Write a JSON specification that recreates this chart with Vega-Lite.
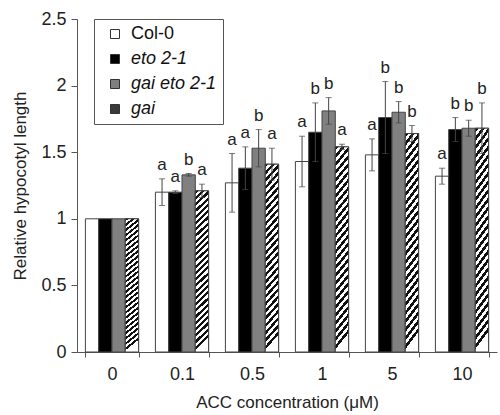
{
  "$schema": "https://vega.github.io/schema/vega-lite/v6.json",
  "width": 420,
  "height": 333,
  "autosize": "none",
  "padding": {"left": 77, "top": 19, "right": 3, "bottom": 63},
  "config": {
    "view": {"stroke": null},
    "font": "Liberation Sans",
    "axis": {"labelFont": "Liberation Sans", "titleFont": "Liberation Sans", "labelColor": "#222", "titleColor": "#222", "titleFontWeight": "normal", "domainColor": "#555", "tickColor": "#555", "grid": false}
  },
  "data": {
    "values": [
      {"conc": "0", "genotype": "Col-0", "value": 1.0, "lo": 1.0, "hi": 1.0, "sig": ""},
      {"conc": "0", "genotype": "eto 2-1", "value": 1.0, "lo": 1.0, "hi": 1.0, "sig": ""},
      {"conc": "0", "genotype": "gai eto 2-1", "value": 1.0, "lo": 1.0, "hi": 1.0, "sig": ""},
      {"conc": "0", "genotype": "gai", "value": 1.0, "lo": 1.0, "hi": 1.0, "sig": ""},
      {"conc": "0.1", "genotype": "Col-0", "value": 1.20, "lo": 1.10, "hi": 1.30, "sig": "a"},
      {"conc": "0.1", "genotype": "eto 2-1", "value": 1.20, "lo": 1.19, "hi": 1.21, "sig": "a"},
      {"conc": "0.1", "genotype": "gai eto 2-1", "value": 1.33, "lo": 1.32, "hi": 1.34, "sig": "b"},
      {"conc": "0.1", "genotype": "gai", "value": 1.21, "lo": 1.16, "hi": 1.26, "sig": "a"},
      {"conc": "0.5", "genotype": "Col-0", "value": 1.27, "lo": 1.05, "hi": 1.49, "sig": "a"},
      {"conc": "0.5", "genotype": "eto 2-1", "value": 1.38, "lo": 1.22, "hi": 1.54, "sig": "a"},
      {"conc": "0.5", "genotype": "gai eto 2-1", "value": 1.53, "lo": 1.39, "hi": 1.67, "sig": "b"},
      {"conc": "0.5", "genotype": "gai", "value": 1.41, "lo": 1.29, "hi": 1.53, "sig": "a"},
      {"conc": "1", "genotype": "Col-0", "value": 1.43, "lo": 1.24, "hi": 1.62, "sig": "a"},
      {"conc": "1", "genotype": "eto 2-1", "value": 1.65, "lo": 1.43, "hi": 1.87, "sig": "b"},
      {"conc": "1", "genotype": "gai eto 2-1", "value": 1.81, "lo": 1.71, "hi": 1.91, "sig": "b"},
      {"conc": "1", "genotype": "gai", "value": 1.54, "lo": 1.52, "hi": 1.56, "sig": "a"},
      {"conc": "5", "genotype": "Col-0", "value": 1.48, "lo": 1.36, "hi": 1.60, "sig": "a"},
      {"conc": "5", "genotype": "eto 2-1", "value": 1.76, "lo": 1.49, "hi": 2.03, "sig": "b"},
      {"conc": "5", "genotype": "gai eto 2-1", "value": 1.80, "lo": 1.72, "hi": 1.88, "sig": "b"},
      {"conc": "5", "genotype": "gai", "value": 1.64, "lo": 1.58, "hi": 1.70, "sig": "b"},
      {"conc": "10", "genotype": "Col-0", "value": 1.32, "lo": 1.26, "hi": 1.38, "sig": "a"},
      {"conc": "10", "genotype": "eto 2-1", "value": 1.67, "lo": 1.58, "hi": 1.76, "sig": "b"},
      {"conc": "10", "genotype": "gai eto 2-1", "value": 1.68, "lo": 1.62, "hi": 1.74, "sig": "b"},
      {"conc": "10", "genotype": "gai", "value": 1.68, "lo": 1.49, "hi": 1.87, "sig": "b"}
    ]
  },
  "encoding": {
    "x": {
      "field": "conc", "type": "nominal",
      "sort": ["0", "0.1", "0.5", "1", "5", "10"],
      "scale": {"paddingInner": 0.24, "paddingOuter": 0.12},
      "axis": {"title": "ACC concentration (μM)", "labelAngle": 0, "labelFontSize": 18, "titleFontSize": 17, "tickBand": "extent", "tickSize": 5, "labelPadding": 8, "titlePadding": 11}
    },
    "xOffset": {
      "field": "genotype", "type": "nominal",
      "sort": ["Col-0", "eto 2-1", "gai eto 2-1", "gai"],
      "scale": {"paddingInner": 0, "paddingOuter": 0}
    },
    "y": {
      "field": "value", "type": "quantitative",
      "scale": {"domain": [0, 2.5], "nice": false},
      "axis": {"values": [0, 0.5, 1, 1.5, 2, 2.5], "format": "~g", "title": "Relative hypocotyl length", "labelFontSize": 18, "titleFontSize": 17, "tickSize": 6, "labelPadding": 5, "titlePadding": 11}
    }
  },
  "layer": [
    {
      "mark": {"type": "bar", "stroke": "#444", "strokeWidth": 1},
      "encoding": {
        "fill": {
          "field": "genotype", "type": "nominal",
          "sort": ["Col-0", "eto 2-1", "gai eto 2-1", "gai"],
          "scale": {
            "domain": ["Col-0", "eto 2-1", "gai eto 2-1", "gai"],
            "range": ["#ffffff", "#000000", "#808080", "#3a3a3a"]
          },
          "legend": {
            "title": null, "orient": "none", "legendX": 17, "legendY": 0, "direction": "vertical",
            "strokeColor": "#555", "fillColor": "#ffffff", "padding": 6,
            "symbolType": "square", "symbolSize": 81, "symbolStrokeColor": "#333", "symbolStrokeWidth": 1,
            "labelFont": "Liberation Sans", "labelFontSize": 18, "labelColor": "#111", "labelOffset": 7, "symbolOffset": 6, "rowPadding": 7,
            "encode": {
              "labels": {"update": {"fontStyle": {"signal": "datum.label === 'Col-0' ? 'normal' : 'italic'"}}},
              "symbols": {"update": {
                "stroke": {"value": "#333"},
                "strokeWidth": {"value": 1}
              }}
            }
          }
        }
      }
    },
    {
      "transform": [{"filter": "datum.genotype === 'gai'"}],
      "mark": {"type": "bar", "stroke": "#444", "strokeWidth": 1, "fill": {
        "gradient": "linear", "x1": 0, "y1": 0, "x2": 0.08, "y2": 1,
        "stops": [
          {"offset": 0, "color": "#111"}, {"offset": 0.0192, "color": "#111"}, {"offset": 0.0192, "color": "#fff"}, {"offset": 0.0385, "color": "#fff"},
          {"offset": 0.0385, "color": "#111"}, {"offset": 0.0577, "color": "#111"}, {"offset": 0.0577, "color": "#fff"}, {"offset": 0.0769, "color": "#fff"},
          {"offset": 0.0769, "color": "#111"}, {"offset": 0.0962, "color": "#111"}, {"offset": 0.0962, "color": "#fff"}, {"offset": 0.1154, "color": "#fff"},
          {"offset": 0.1154, "color": "#111"}, {"offset": 0.1346, "color": "#111"}, {"offset": 0.1346, "color": "#fff"}, {"offset": 0.1538, "color": "#fff"},
          {"offset": 0.1538, "color": "#111"}, {"offset": 0.1731, "color": "#111"}, {"offset": 0.1731, "color": "#fff"}, {"offset": 0.1923, "color": "#fff"},
          {"offset": 0.1923, "color": "#111"}, {"offset": 0.2115, "color": "#111"}, {"offset": 0.2115, "color": "#fff"}, {"offset": 0.2308, "color": "#fff"},
          {"offset": 0.2308, "color": "#111"}, {"offset": 0.25, "color": "#111"}, {"offset": 0.25, "color": "#fff"}, {"offset": 0.2692, "color": "#fff"},
          {"offset": 0.2692, "color": "#111"}, {"offset": 0.2885, "color": "#111"}, {"offset": 0.2885, "color": "#fff"}, {"offset": 0.3077, "color": "#fff"},
          {"offset": 0.3077, "color": "#111"}, {"offset": 0.3269, "color": "#111"}, {"offset": 0.3269, "color": "#fff"}, {"offset": 0.3462, "color": "#fff"},
          {"offset": 0.3462, "color": "#111"}, {"offset": 0.3654, "color": "#111"}, {"offset": 0.3654, "color": "#fff"}, {"offset": 0.3846, "color": "#fff"},
          {"offset": 0.3846, "color": "#111"}, {"offset": 0.4038, "color": "#111"}, {"offset": 0.4038, "color": "#fff"}, {"offset": 0.4231, "color": "#fff"},
          {"offset": 0.4231, "color": "#111"}, {"offset": 0.4423, "color": "#111"}, {"offset": 0.4423, "color": "#fff"}, {"offset": 0.4615, "color": "#fff"},
          {"offset": 0.4615, "color": "#111"}, {"offset": 0.4808, "color": "#111"}, {"offset": 0.4808, "color": "#fff"}, {"offset": 0.5, "color": "#fff"},
          {"offset": 0.5, "color": "#111"}, {"offset": 0.5192, "color": "#111"}, {"offset": 0.5192, "color": "#fff"}, {"offset": 0.5385, "color": "#fff"},
          {"offset": 0.5385, "color": "#111"}, {"offset": 0.5577, "color": "#111"}, {"offset": 0.5577, "color": "#fff"}, {"offset": 0.5769, "color": "#fff"},
          {"offset": 0.5769, "color": "#111"}, {"offset": 0.5962, "color": "#111"}, {"offset": 0.5962, "color": "#fff"}, {"offset": 0.6154, "color": "#fff"},
          {"offset": 0.6154, "color": "#111"}, {"offset": 0.6346, "color": "#111"}, {"offset": 0.6346, "color": "#fff"}, {"offset": 0.6538, "color": "#fff"},
          {"offset": 0.6538, "color": "#111"}, {"offset": 0.6731, "color": "#111"}, {"offset": 0.6731, "color": "#fff"}, {"offset": 0.6923, "color": "#fff"},
          {"offset": 0.6923, "color": "#111"}, {"offset": 0.7115, "color": "#111"}, {"offset": 0.7115, "color": "#fff"}, {"offset": 0.7308, "color": "#fff"},
          {"offset": 0.7308, "color": "#111"}, {"offset": 0.75, "color": "#111"}, {"offset": 0.75, "color": "#fff"}, {"offset": 0.7692, "color": "#fff"},
          {"offset": 0.7692, "color": "#111"}, {"offset": 0.7885, "color": "#111"}, {"offset": 0.7885, "color": "#fff"}, {"offset": 0.8077, "color": "#fff"},
          {"offset": 0.8077, "color": "#111"}, {"offset": 0.8269, "color": "#111"}, {"offset": 0.8269, "color": "#fff"}, {"offset": 0.8462, "color": "#fff"},
          {"offset": 0.8462, "color": "#111"}, {"offset": 0.8654, "color": "#111"}, {"offset": 0.8654, "color": "#fff"}, {"offset": 0.8846, "color": "#fff"},
          {"offset": 0.8846, "color": "#111"}, {"offset": 0.9038, "color": "#111"}, {"offset": 0.9038, "color": "#fff"}, {"offset": 0.9231, "color": "#fff"},
          {"offset": 0.9231, "color": "#111"}, {"offset": 0.9423, "color": "#111"}, {"offset": 0.9423, "color": "#fff"}, {"offset": 0.9615, "color": "#fff"},
          {"offset": 0.9615, "color": "#111"}, {"offset": 0.9808, "color": "#111"}, {"offset": 0.9808, "color": "#fff"}, {"offset": 1, "color": "#fff"}
        ]
      }},
      "encoding": {}
    },
    {
      "transform": [{"filter": "datum.hi > datum.lo"}],
      "mark": {"type": "rule", "color": "#444", "strokeWidth": 1},
      "encoding": {
        "y": {"field": "lo", "type": "quantitative"},
        "y2": {"field": "hi"}
      }
    },
    {
      "transform": [{"filter": "datum.hi > datum.lo"}],
      "mark": {"type": "tick", "color": "#444", "orient": "horizontal", "size": 6, "thickness": 1},
      "encoding": {
        "y": {"field": "hi", "type": "quantitative"}
      }
    },
    {
      "transform": [{"filter": "datum.hi > datum.lo"}],
      "mark": {"type": "tick", "color": "#444", "orient": "horizontal", "size": 6, "thickness": 1},
      "encoding": {
        "y": {"field": "lo", "type": "quantitative"}
      }
    },
    {
      "mark": {"type": "text", "fontSize": 17, "color": "#222", "baseline": "alphabetic", "dy": -9, "font": "Liberation Sans"},
      "encoding": {
        "y": {"field": "hi", "type": "quantitative"},
        "text": {"field": "sig"}
      }
    }
  ]
}
